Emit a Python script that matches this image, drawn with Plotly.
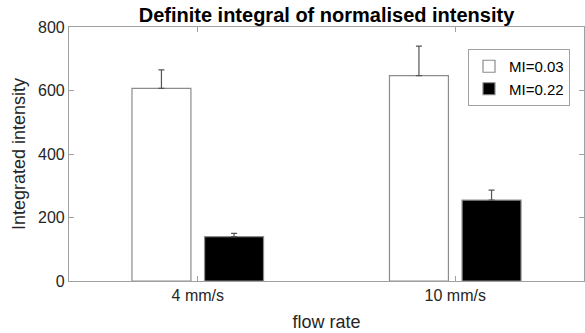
import plotly.graph_objects as go

categories = ["4 mm/s", "10 mm/s"]
series_names = ["MI=0.03", "MI=0.22"]
mi003_values = [607, 647]
mi003_errors = [58, 93]
mi022_values = [140, 255]
mi022_errors = [10, 31]
y_ticks = [0, 200, 400, 600, 800]

FONT = "Liberation Sans, Arial, sans-serif"
x_pos = list(range(len(categories)))
bar_w = 0.229
gap = 0.141

fig = go.Figure()
fig.add_trace(go.Bar(
    x=x_pos, y=mi003_values, name=series_names[0],
    width=bar_w, offset=-gap - bar_w / 2,
    marker=dict(color="white", line=dict(color="#8c8c8c", width=1.2)),
    error_y=dict(type="data", symmetric=False, array=mi003_errors,
                 arrayminus=[0] * len(mi003_errors),
                 color="#555555", thickness=1.2, width=3),
))
fig.add_trace(go.Bar(
    x=x_pos, y=mi022_values, name=series_names[1],
    width=bar_w, offset=gap - bar_w / 2,
    marker=dict(color="black", line=dict(color="#8c8c8c", width=1.2)),
    error_y=dict(type="data", symmetric=False, array=mi022_errors,
                 arrayminus=[0] * len(mi022_errors),
                 color="#555555", thickness=1.2, width=3),
))

axis_common = dict(
    showline=True, linecolor="#a0a0a0", linewidth=1.2, mirror="ticks",
    ticks="inside", ticklen=5, tickcolor="#a0a0a0", tickwidth=1,
    showgrid=False, zeroline=False, automargin=False,
    tickfont=dict(family=FONT, size=16, color="#262626"),
)

fig.update_layout(
    width=585, height=333,
    margin=dict(l=69, r=1, t=27, b=52),
    paper_bgcolor="white", plot_bgcolor="white",
    barmode="overlay",
    title=dict(text="<b>Definite integral of normalised intensity</b>",
               font=dict(family=FONT, size=20, color="black"),
               x=0.5, xanchor="center", xref="paper",
               y=1 - 15 / 333, yanchor="middle", yref="container"),
    xaxis=dict(range=[-0.5, 1.5], tickmode="array", tickvals=x_pos,
               ticktext=categories,
               title=dict(text="flow rate", standoff=12,
                          font=dict(family=FONT, size=18, color="#262626")),
               **axis_common),
    yaxis=dict(range=[0, 800], tickmode="array", tickvals=y_ticks,
               title=dict(text="Integrated intensity", standoff=7,
                          font=dict(family=FONT, size=18, color="#262626")),
               **axis_common),
    legend=dict(x=(570 - 69) / 515, xanchor="right",
                y=(281 - 49) / 254, yanchor="top",
                bordercolor="#a0a0a0", borderwidth=1, bgcolor="white",
                font=dict(family=FONT, size=15, color="black"),
                itemwidth=30, tracegroupgap=0),
    showlegend=True,
)

fig.write_html("out.html", config={"displayModeBar": False},
               post_script="document.body.style.margin='0';document.body.style.overflow='hidden';")
